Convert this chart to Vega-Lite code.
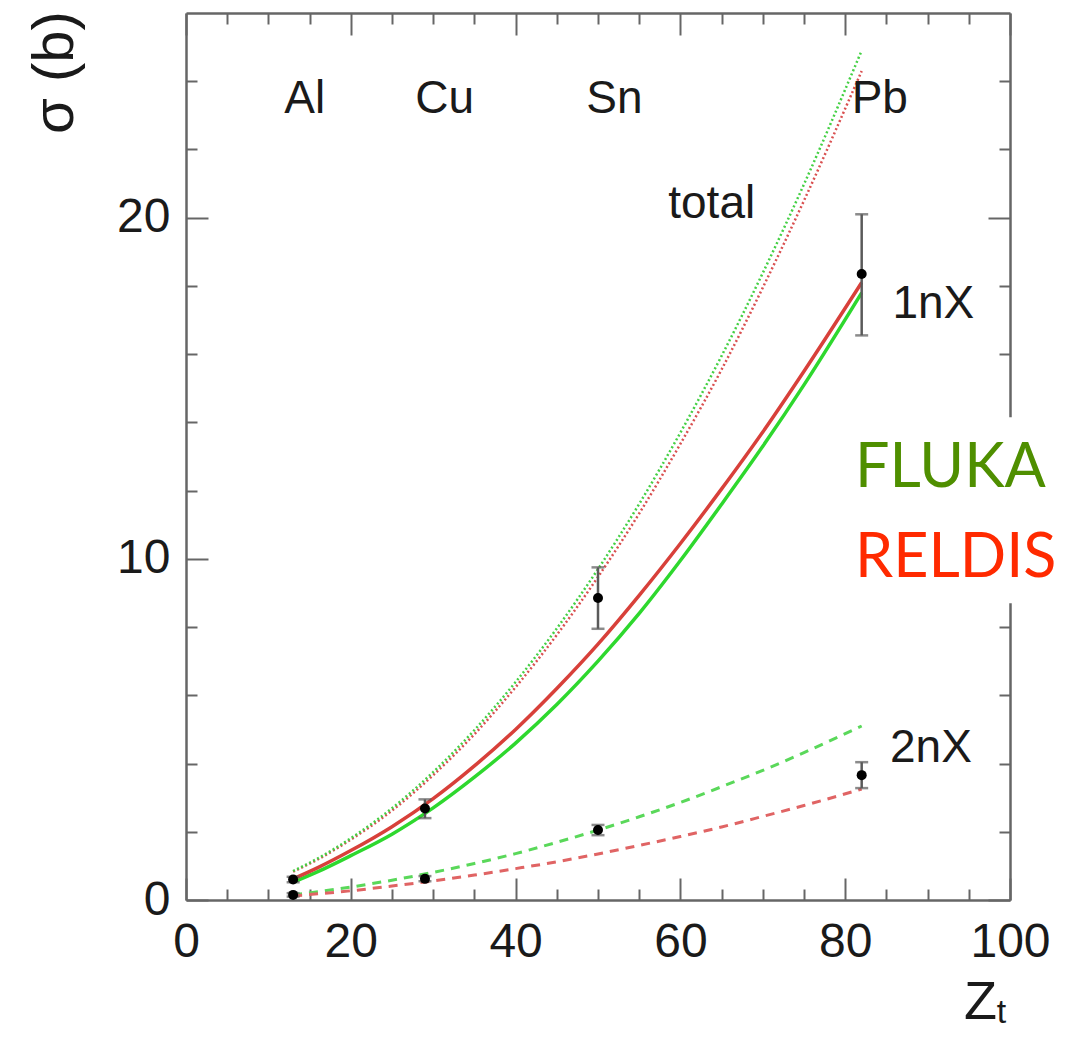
{
  "$schema": "https://vega.github.io/schema/vega-lite/v6.json",
  "width": 824,
  "height": 887,
  "autosize": {"type": "none"},
  "padding": {"left": 186, "top": 13, "right": 75, "bottom": 137},
  "background": "white",
  "config": {
    "view": {"stroke": null},
    "font": "Liberation Sans",
    "axis": {"grid": false, "domainColor": "#666666", "domainWidth": 2.5, "tickColor": "#666666", "tickWidth": 2, "labelColor": "#1a1a1a", "labelFontSize": 48, "labelFlush": false, "labelOverlap": false, "titleColor": "#1a1a1a", "titleFontWeight": "normal", "titleFontSize": 54}
  },
  "datasets": {
    "curves": [
      {"Z": 13, "s": 0.85, "curve": "FLUKA total"}, {"Z": 16, "s": 1.22, "curve": "FLUKA total"}, {"Z": 20, "s": 1.81, "curve": "FLUKA total"}, {"Z": 25, "s": 2.69, "curve": "FLUKA total"}, {"Z": 30, "s": 3.75, "curve": "FLUKA total"}, {"Z": 35, "s": 4.98, "curve": "FLUKA total"}, {"Z": 40, "s": 6.39, "curve": "FLUKA total"}, {"Z": 45, "s": 7.96, "curve": "FLUKA total"}, {"Z": 50, "s": 9.7, "curve": "FLUKA total"}, {"Z": 55, "s": 11.61, "curve": "FLUKA total"}, {"Z": 60, "s": 13.7, "curve": "FLUKA total"}, {"Z": 65, "s": 15.95, "curve": "FLUKA total"}, {"Z": 70, "s": 18.38, "curve": "FLUKA total"}, {"Z": 75, "s": 20.98, "curve": "FLUKA total"}, {"Z": 82, "s": 24.9, "curve": "FLUKA total"},
      {"Z": 13, "s": 0.83, "curve": "RELDIS total"}, {"Z": 16, "s": 1.19, "curve": "RELDIS total"}, {"Z": 20, "s": 1.77, "curve": "RELDIS total"}, {"Z": 25, "s": 2.62, "curve": "RELDIS total"}, {"Z": 30, "s": 3.66, "curve": "RELDIS total"}, {"Z": 35, "s": 4.86, "curve": "RELDIS total"}, {"Z": 40, "s": 6.24, "curve": "RELDIS total"}, {"Z": 45, "s": 7.77, "curve": "RELDIS total"}, {"Z": 50, "s": 9.47, "curve": "RELDIS total"}, {"Z": 55, "s": 11.33, "curve": "RELDIS total"}, {"Z": 60, "s": 13.37, "curve": "RELDIS total"}, {"Z": 65, "s": 15.55, "curve": "RELDIS total"}, {"Z": 70, "s": 17.95, "curve": "RELDIS total"}, {"Z": 75, "s": 20.5, "curve": "RELDIS total"}, {"Z": 82, "s": 24.3, "curve": "RELDIS total"},
      {"Z": 13, "s": 0.52, "curve": "FLUKA 1nX"}, {"Z": 16, "s": 0.83, "curve": "FLUKA 1nX"}, {"Z": 20, "s": 1.3, "curve": "FLUKA 1nX"}, {"Z": 25, "s": 1.93, "curve": "FLUKA 1nX"}, {"Z": 30, "s": 2.7, "curve": "FLUKA 1nX"}, {"Z": 35, "s": 3.6, "curve": "FLUKA 1nX"}, {"Z": 40, "s": 4.6, "curve": "FLUKA 1nX"}, {"Z": 45, "s": 5.73, "curve": "FLUKA 1nX"}, {"Z": 50, "s": 7.0, "curve": "FLUKA 1nX"}, {"Z": 55, "s": 8.4, "curve": "FLUKA 1nX"}, {"Z": 60, "s": 9.95, "curve": "FLUKA 1nX"}, {"Z": 65, "s": 11.6, "curve": "FLUKA 1nX"}, {"Z": 70, "s": 13.3, "curve": "FLUKA 1nX"}, {"Z": 75, "s": 15.1, "curve": "FLUKA 1nX"}, {"Z": 82, "s": 17.8, "curve": "FLUKA 1nX"},
      {"Z": 13, "s": 0.62, "curve": "RELDIS 1nX"}, {"Z": 16, "s": 0.95, "curve": "RELDIS 1nX"}, {"Z": 20, "s": 1.45, "curve": "RELDIS 1nX"}, {"Z": 25, "s": 2.15, "curve": "RELDIS 1nX"}, {"Z": 30, "s": 2.97, "curve": "RELDIS 1nX"}, {"Z": 35, "s": 3.93, "curve": "RELDIS 1nX"}, {"Z": 40, "s": 5.0, "curve": "RELDIS 1nX"}, {"Z": 45, "s": 6.2, "curve": "RELDIS 1nX"}, {"Z": 50, "s": 7.5, "curve": "RELDIS 1nX"}, {"Z": 55, "s": 8.93, "curve": "RELDIS 1nX"}, {"Z": 60, "s": 10.45, "curve": "RELDIS 1nX"}, {"Z": 65, "s": 12.05, "curve": "RELDIS 1nX"}, {"Z": 70, "s": 13.72, "curve": "RELDIS 1nX"}, {"Z": 75, "s": 15.5, "curve": "RELDIS 1nX"}, {"Z": 82, "s": 18.1, "curve": "RELDIS 1nX"},
      {"Z": 13, "s": 0.15, "curve": "FLUKA 2nX"}, {"Z": 16, "s": 0.24, "curve": "FLUKA 2nX"}, {"Z": 20, "s": 0.38, "curve": "FLUKA 2nX"}, {"Z": 25, "s": 0.58, "curve": "FLUKA 2nX"}, {"Z": 30, "s": 0.81, "curve": "FLUKA 2nX"}, {"Z": 35, "s": 1.07, "curve": "FLUKA 2nX"}, {"Z": 40, "s": 1.36, "curve": "FLUKA 2nX"}, {"Z": 45, "s": 1.69, "curve": "FLUKA 2nX"}, {"Z": 50, "s": 2.05, "curve": "FLUKA 2nX"}, {"Z": 55, "s": 2.44, "curve": "FLUKA 2nX"}, {"Z": 60, "s": 2.86, "curve": "FLUKA 2nX"}, {"Z": 65, "s": 3.32, "curve": "FLUKA 2nX"}, {"Z": 70, "s": 3.8, "curve": "FLUKA 2nX"}, {"Z": 75, "s": 4.32, "curve": "FLUKA 2nX"}, {"Z": 82, "s": 5.1, "curve": "FLUKA 2nX"},
      {"Z": 13, "s": 0.12, "curve": "RELDIS 2nX"}, {"Z": 16, "s": 0.18, "curve": "RELDIS 2nX"}, {"Z": 20, "s": 0.27, "curve": "RELDIS 2nX"}, {"Z": 25, "s": 0.41, "curve": "RELDIS 2nX"}, {"Z": 30, "s": 0.56, "curve": "RELDIS 2nX"}, {"Z": 35, "s": 0.73, "curve": "RELDIS 2nX"}, {"Z": 40, "s": 0.92, "curve": "RELDIS 2nX"}, {"Z": 45, "s": 1.12, "curve": "RELDIS 2nX"}, {"Z": 50, "s": 1.35, "curve": "RELDIS 2nX"}, {"Z": 55, "s": 1.6, "curve": "RELDIS 2nX"}, {"Z": 60, "s": 1.86, "curve": "RELDIS 2nX"}, {"Z": 65, "s": 2.14, "curve": "RELDIS 2nX"}, {"Z": 70, "s": 2.45, "curve": "RELDIS 2nX"}, {"Z": 75, "s": 2.77, "curve": "RELDIS 2nX"}, {"Z": 82, "s": 3.25, "curve": "RELDIS 2nX"}
    ],
    "points": [
      {"Z": 13, "s": 0.6, "lo": 0.52, "hi": 0.68, "channel": "1nX"},
      {"Z": 29, "s": 2.68, "lo": 2.4, "hi": 2.95, "channel": "1nX"},
      {"Z": 50, "s": 8.85, "lo": 7.95, "hi": 9.75, "channel": "1nX"},
      {"Z": 82, "s": 18.35, "lo": 16.55, "hi": 20.1, "channel": "1nX"},
      {"Z": 13, "s": 0.15, "lo": 0.1, "hi": 0.2, "channel": "2nX"},
      {"Z": 29, "s": 0.62, "lo": 0.55, "hi": 0.7, "channel": "2nX"},
      {"Z": 50, "s": 2.05, "lo": 1.9, "hi": 2.2, "channel": "2nX"},
      {"Z": 82, "s": 3.66, "lo": 3.28, "hi": 4.04, "channel": "2nX"}
    ],
    "labels": [
      {"Z": 14.4, "s": 23.06, "text": "Al"},
      {"Z": 31.4, "s": 23.06, "text": "Cu"},
      {"Z": 52.0, "s": 23.06, "text": "Sn"},
      {"Z": 84.2, "s": 23.06, "text": "Pb"},
      {"Z": 63.8, "s": 20.0, "text": "total"},
      {"Z": 90.7, "s": 17.05, "text": "1nX"},
      {"Z": 90.4, "s": 4.04, "text": "2nX"}
    ],
    "legend": [
      {"Z": 81.2, "s": 12.1, "text": "FLUKA", "model": "FLUKA"},
      {"Z": 81.2, "s": 9.46, "text": "RELDIS", "model": "RELDIS"}
    ],
    "box": [{"Z1": 89, "Z2": 112, "s1": 8.7, "s2": 14.15}],
    "sub": [{"Z": 98.4, "s": -3.62, "text": "t"}]
  },
  "resolve": {"axis": {"x": "independent", "y": "independent"}},
  "layer": [
    {
      "data": {"name": "curves"},
      "transform": [{"filter": "datum.curve === 'RELDIS total'"}],
      "mark": {"type": "line", "color": "#d95050", "strokeWidth": 2.5, "strokeDash": [2, 2.5], "interpolate": "monotone"},
      "encoding": {
        "x": {"field": "Z", "type": "quantitative", "scale": {"domain": [0, 100], "nice": false, "zero": false},
          "axis": {"orient": "bottom", "values": [0, 5, 10, 15, 20, 25, 30, 35, 40, 45, 50, 55, 60, 65, 70, 75, 80, 85, 90, 95, 100],
            "labelExpr": "datum.value % 20 === 0 ? datum.label : ''",
            "tickSize": {"condition": {"test": "datum.value % 20 === 0", "value": -22}, "value": -11},
            "labelPadding": 40, "title": "Z", "titleX": 794, "titleY": 118, "titleAlign": "center", "titleBaseline": "alphabetic"}},
        "y": {"field": "s", "type": "quantitative", "scale": {"domain": [0, 26], "nice": false, "zero": false},
          "axis": {"orient": "left", "values": [0, 2, 4, 6, 8, 10, 12, 14, 16, 18, 20, 22, 24],
            "labelExpr": "datum.value % 10 === 0 ? datum.label : ''",
            "tickSize": {"condition": {"test": "datum.value % 10 === 0", "value": -22}, "value": -11},
            "labelPadding": 38, "title": "σ (b)", "titleFontSize": 58, "titleAngle": 270, "titleX": -131, "titleY": 59, "titleAlign": "center", "titleBaseline": "middle"}}
      }
    },
    {
      "data": {"name": "curves"},
      "transform": [{"filter": "datum.curve === 'FLUKA total'"}],
      "mark": {"type": "line", "color": "#44d044", "strokeWidth": 2.5, "strokeDash": [2, 2.5], "interpolate": "monotone"},
      "encoding": {
        "x": {"field": "Z", "type": "quantitative",
          "axis": {"orient": "top", "values": [0, 5, 10, 15, 20, 25, 30, 35, 40, 45, 50, 55, 60, 65, 70, 75, 80, 85, 90, 95, 100],
            "labels": false, "title": null,
            "tickSize": {"condition": {"test": "datum.value % 20 === 0", "value": -22}, "value": -11}}},
        "y": {"field": "s", "type": "quantitative",
          "axis": {"orient": "right", "values": [0, 2, 4, 6, 8, 10, 12, 14, 16, 18, 20, 22, 24],
            "labels": false, "title": null,
            "tickSize": {"condition": {"test": "datum.value % 10 === 0", "value": -22}, "value": -11}}}
      }
    },
    {
      "data": {"name": "curves"},
      "transform": [{"filter": "datum.curve === 'FLUKA 1nX'"}],
      "mark": {"type": "line", "color": "#2ed82e", "strokeWidth": 3.5, "interpolate": "monotone"},
      "encoding": {"x": {"field": "Z", "type": "quantitative", "axis": null}, "y": {"field": "s", "type": "quantitative", "axis": null}}
    },
    {
      "data": {"name": "curves"},
      "transform": [{"filter": "datum.curve === 'RELDIS 1nX'"}],
      "mark": {"type": "line", "color": "#d8403a", "strokeWidth": 3.5, "interpolate": "monotone"},
      "encoding": {"x": {"field": "Z", "type": "quantitative", "axis": null}, "y": {"field": "s", "type": "quantitative", "axis": null}}
    },
    {
      "data": {"name": "curves"},
      "transform": [{"filter": "datum.curve === 'FLUKA 2nX'"}],
      "mark": {"type": "line", "color": "#5ad85a", "strokeWidth": 3, "strokeDash": [9, 7], "interpolate": "monotone"},
      "encoding": {"x": {"field": "Z", "type": "quantitative", "axis": null}, "y": {"field": "s", "type": "quantitative", "axis": null}}
    },
    {
      "data": {"name": "curves"},
      "transform": [{"filter": "datum.curve === 'RELDIS 2nX'"}],
      "mark": {"type": "line", "color": "#e06464", "strokeWidth": 3, "strokeDash": [9, 7], "interpolate": "monotone"},
      "encoding": {"x": {"field": "Z", "type": "quantitative", "axis": null}, "y": {"field": "s", "type": "quantitative", "axis": null}}
    },
    {
      "data": {"name": "points"},
      "mark": {"type": "rule", "color": "#5a5a5a", "strokeWidth": 2.5},
      "encoding": {"x": {"field": "Z", "type": "quantitative", "axis": null}, "y": {"field": "lo", "type": "quantitative", "axis": null}, "y2": {"field": "hi"}}
    },
    {
      "data": {"name": "points"},
      "mark": {"type": "tick", "color": "#5a5a5a", "orient": "horizontal", "size": 13, "thickness": 2.5},
      "encoding": {"x": {"field": "Z", "type": "quantitative", "axis": null}, "y": {"field": "lo", "type": "quantitative", "axis": null}}
    },
    {
      "data": {"name": "points"},
      "mark": {"type": "tick", "color": "#5a5a5a", "orient": "horizontal", "size": 13, "thickness": 2.5},
      "encoding": {"x": {"field": "Z", "type": "quantitative", "axis": null}, "y": {"field": "hi", "type": "quantitative", "axis": null}}
    },
    {
      "data": {"name": "points"},
      "mark": {"type": "circle", "color": "#000000", "size": 100, "opacity": 1},
      "encoding": {"x": {"field": "Z", "type": "quantitative", "axis": null}, "y": {"field": "s", "type": "quantitative", "axis": null}}
    },
    {
      "data": {"name": "labels"},
      "mark": {"type": "text", "font": "Liberation Sans", "fontSize": 46, "color": "#1a1a1a", "align": "center", "baseline": "alphabetic"},
      "encoding": {"x": {"field": "Z", "type": "quantitative", "axis": null}, "y": {"field": "s", "type": "quantitative", "axis": null}, "text": {"field": "text"}}
    },
    {
      "data": {"name": "sub"},
      "mark": {"type": "text", "font": "Liberation Sans", "fontSize": 34, "color": "#1a1a1a", "align": "left", "baseline": "alphabetic"},
      "encoding": {"x": {"field": "Z", "type": "quantitative", "axis": null}, "y": {"field": "s", "type": "quantitative", "axis": null}, "text": {"field": "text"}}
    },
    {
      "data": {"name": "box"},
      "mark": {"type": "rect", "color": "#ffffff", "opacity": 1},
      "encoding": {"x": {"field": "Z1", "type": "quantitative", "axis": null}, "x2": {"field": "Z2"}, "y": {"field": "s1", "type": "quantitative", "axis": null}, "y2": {"field": "s2"}}
    },
    {
      "data": {"name": "legend"},
      "mark": {"type": "text", "font": "Lato", "fontSize": 61, "align": "left", "baseline": "alphabetic"},
      "encoding": {
        "x": {"field": "Z", "type": "quantitative", "axis": null},
        "y": {"field": "s", "type": "quantitative", "axis": null},
        "text": {"field": "text"},
        "color": {"field": "model", "type": "nominal", "scale": {"domain": ["FLUKA", "RELDIS"], "range": ["#4f8f00", "#ff2a00"]}, "legend": null}
      }
    }
  ]
}
